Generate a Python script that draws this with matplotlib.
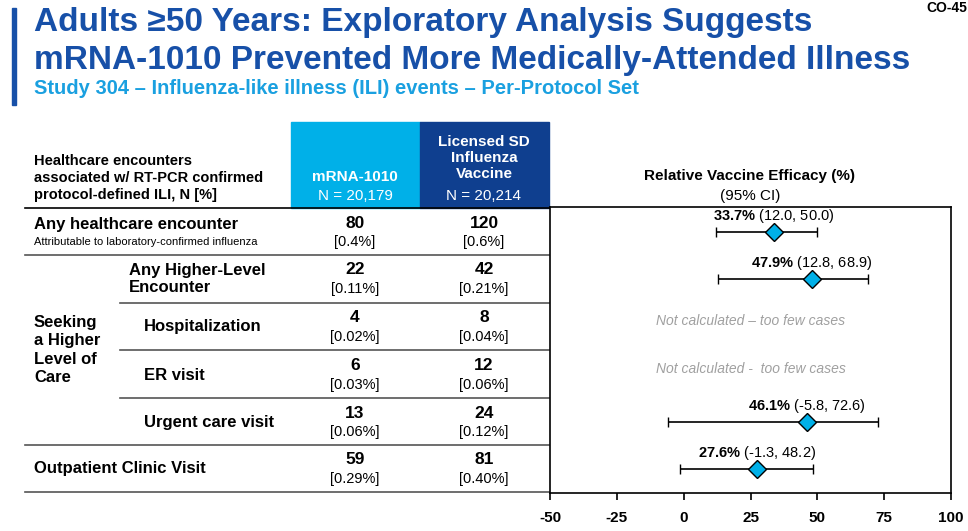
import matplotlib.pyplot as plt
from matplotlib.patches import Rectangle

plt.rcParams['font.family'] = ['Liberation Sans', 'DejaVu Sans']
plt.rcParams['mathtext.fontset'] = 'custom'
plt.rcParams['mathtext.rm'] = 'Liberation Sans'
plt.rcParams['mathtext.bf'] = 'Liberation Sans:bold'

BLUE = "#1750a8"
CYAN = "#00b0e8"
NAVY = "#0f3f8f"

rows = ["Any healthcare encounter", "Any Higher-Level\nEncounter", "Hospitalization",
        "ER visit", "Urgent care visit", "Outpatient Clinic Visit"]
mrna_n = [80, 22, 4, 6, 13, 59]
mrna_pct = ["0.4%", "0.11%", "0.02%", "0.03%", "0.06%", "0.29%"]
lic_n = [120, 42, 8, 12, 24, 81]
lic_pct = ["0.6%", "0.21%", "0.04%", "0.06%", "0.12%", "0.40%"]
rve = [33.7, 47.9, None, None, 46.1, 27.6]
ci_lo = [12.0, 12.8, None, None, -5.8, -1.3]
ci_hi = [50.0, 68.9, None, None, 72.6, 48.2]
na_text = [None, None, "Not calculated – too few cases", "Not calculated -  too few cases", None, None]
xticks = [-50, -25, 0, 25, 50, 75, 100]

fig = plt.figure(figsize=(9.68, 5.31), dpi=100)
bg = fig.add_axes([0, 0, 1, 1])
bg.set_xlim(0, 968)
bg.set_ylim(531, 0)
bg.axis('off')

# title block
bg.add_patch(Rectangle((12, 8), 4, 97, color=BLUE))
bg.text(34, 22, "Adults ≥50 Years: Exploratory Analysis Suggests", fontsize=24, fontweight='bold', color=BLUE, va='center')
bg.text(34, 60, "mRNA-1010 Prevented More Medically-Attended Illness", fontsize=24, fontweight='bold', color=BLUE, va='center')
bg.text(34, 89, "Study 304 – Influenza-like illness (ILI) events – Per-Protocol Set", fontsize=14.5, fontweight='bold', color="#1aa0e0", va='center')
bg.text(926, 8, "CO-45", fontsize=10, fontweight='bold', va='center')

# header
bg.text(34, 178, "Healthcare encounters\nassociated w/ RT-PCR confirmed\nprotocol-defined ILI, N [%]",
        fontsize=10.5, fontweight='bold', va='center', linespacing=1.25)
bg.add_patch(Rectangle((291, 122), 129, 86, color=CYAN))
bg.add_patch(Rectangle((420, 122), 129, 86, color=NAVY))
bg.text(355, 177, "mRNA-1010", fontsize=11, fontweight='bold', color='white', ha='center', va='center')
bg.text(355, 196, "N = 20,179", fontsize=11, color='white', ha='center', va='center')
bg.text(484, 158, "Licensed SD\nInfluenza\nVaccine", fontsize=11, fontweight='bold', color='white',
        ha='center', va='center', linespacing=1.15)
bg.text(484, 196, "N = 20,214", fontsize=11, color='white', ha='center', va='center')
bg.text(750, 176, "Relative Vaccine Efficacy (%)", fontsize=11, fontweight='bold', ha='center', va='center')
bg.text(750, 196, "(95% CI)", fontsize=11, ha='center', va='center')

# table lines
bg.plot([25, 549], [208, 208], color='black', lw=1.2)
for y, x0 in [(255, 25), (303, 120), (350, 120), (398, 120), (445, 25), (492, 25)]:
    bg.plot([x0, 549], [y, y], color='#555555', lw=1.2)

row_y = [232, 279, 327, 375, 422, 469]
label_x = [34, 129, 144, 144, 144, 34]
for i, y in enumerate(row_y):
    if i == 0:
        bg.text(34, 225, rows[i], fontsize=12, fontweight='bold', va='center')
        bg.text(34, 242, "Attributable to laboratory-confirmed influenza", fontsize=8, va='center')
    else:
        bg.text(label_x[i], y, rows[i], fontsize=12, fontweight='bold', va='center', linespacing=1.25)
    bg.text(355, y - 9, str(mrna_n[i]), fontsize=12.5, fontweight='bold', ha='center', va='center')
    bg.text(355, y + 10, "[" + mrna_pct[i] + "]", fontsize=10.5, ha='center', va='center')
    bg.text(484, y - 9, str(lic_n[i]), fontsize=12.5, fontweight='bold', ha='center', va='center')
    bg.text(484, y + 10, "[" + lic_pct[i] + "]", fontsize=10.5, ha='center', va='center')
bg.text(34, 350, "Seeking\na Higher\nLevel of\nCare", fontsize=12, fontweight='bold', va='center', linespacing=1.25)

# forest plot
ax = fig.add_axes([550 / 968, 1 - 493 / 531, 401 / 968, 286 / 531])
ax.set_xlim(-50, 100)
ax.set_ylim(493, 207)
ax.set_xticks(xticks)
ax.set_xticklabels([str(t) for t in xticks], fontweight='bold', fontsize=11)
ax.tick_params(axis='x', length=5, width=1.2, pad=8)
ax.set_yticks([])
for s in ax.spines.values():
    s.set_linewidth(1.2)
for i, y in enumerate(row_y):
    if rve[i] is None:
        ax.text(25, y - 6, na_text[i], fontsize=10, style='italic', color='#a0a0a0', ha='center', va='center')
        continue
    ax.errorbar(rve[i], y, xerr=[[rve[i] - ci_lo[i]], [ci_hi[i] - rve[i]]], fmt='D', ms=9,
                mfc=CYAN, mec='black', mew=1, ecolor='black', elinewidth=1.2, capsize=3.5, capthick=1.2)
    ax.annotate(f"$\\mathbf{{{rve[i]}\\%}}$ ({ci_lo[i]}, {ci_hi[i]})", (rve[i], y - 16),
                ha='center', va='center', fontsize=10.5)

fig.savefig("out.png", dpi=100)
